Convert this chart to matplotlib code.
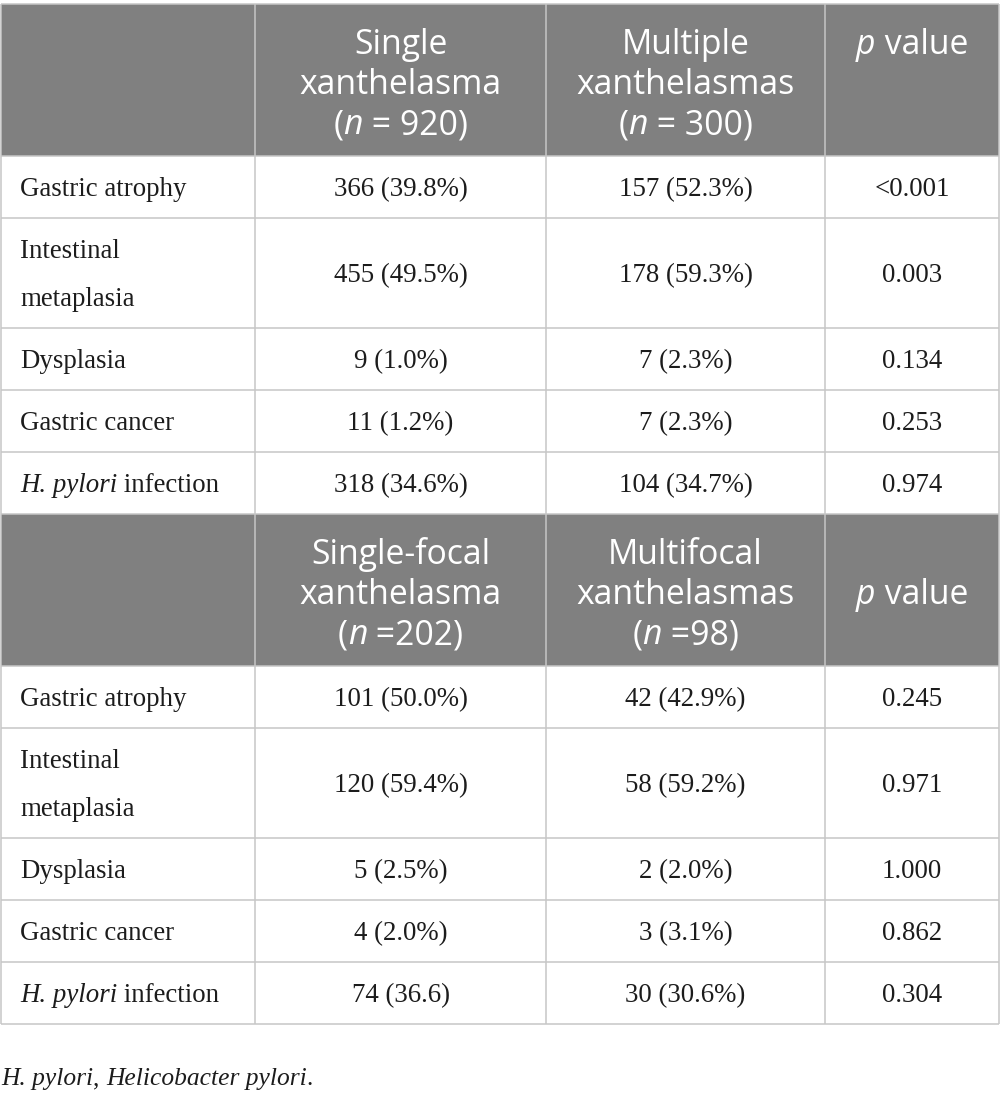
import matplotlib
matplotlib.use("Agg")
import matplotlib.pyplot as plt
from matplotlib.patches import Rectangle

# ---------------- table content ----------------
# "*...*" marks italic runs, "\n" splits a cell into lines
row_labels = ["Gastric atrophy", "Intestinal\nmetaplasia", "Dysplasia",
              "Gastric cancer", "*H. pylori* infection"]

header_top = ["", "Single\nxanthelasma\n(*n* = 920)",
              "Multiple\nxanthelasmas\n(*n* = 300)", "*p* value\n\n"]
single = ["366 (39.8%)", "455 (49.5%)", "9 (1.0%)", "11 (1.2%)", "318 (34.6%)"]
multiple = ["157 (52.3%)", "178 (59.3%)", "7 (2.3%)", "7 (2.3%)", "104 (34.7%)"]
p_top = ["<0.001", "0.003", "0.134", "0.253", "0.974"]

header_bottom = ["", "Single-focal\nxanthelasma\n(*n* =202)",
                 "Multifocal\nxanthelasmas\n(*n* =98)", "*p* value"]
single_focal = ["101 (50.0%)", "120 (59.4%)", "5 (2.5%)", "4 (2.0%)", "74 (36.6)"]
multifocal = ["42 (42.9%)", "58 (59.2%)", "2 (2.0%)", "3 (3.1%)", "30 (30.6%)"]
p_bottom = ["0.245", "0.971", "1.000", "0.862", "0.304"]

footnote = "*H. pylori*, *Helicobacter pylori*."

# ---------------- layout ----------------
W, H = 1000, 1099
col_edges = [1, 255, 546, 825, 999]
top_y = 4
header_h = 152
line_h = 62          # one-line body row
line2_h = 110        # two-line body row
header_gap = 40
body_gap = 48

HEADER_BG = "#808080"
GRID = "#c6c6c6"
TEXT = "#1c1c1c"
SANS = "Open Sans"
SERIF = "Liberation Serif"
HEADER_SIZE = 24.3
BODY_SIZE = 19.4
NOTE_SIZE = 18.4

fig = plt.figure(figsize=(W / 100, H / 100), dpi=100)
ax = fig.add_axes([0, 0, 1, 1])
ax.set_xlim(0, W)
ax.set_ylim(H, 0)
ax.axis("off")
renderer = fig.canvas.get_renderer()


def text_width(s, **kw):
    # measure with bars on both sides so leading/trailing spaces count
    t1 = ax.text(0, 0, "|" + s + "|", **kw)
    t2 = ax.text(0, 0, "||", **kw)
    w = t1.get_window_extent(renderer).width - t2.get_window_extent(renderer).width
    t1.remove()
    t2.remove()
    return w


def draw_line(x, y, s, ha, family, size, color):
    """Draw one line of text that may hold *italic* runs."""
    parts = s.split("*")
    runs = [(p, i % 2 == 1) for i, p in enumerate(parts) if p]
    widths = []
    for p, it in runs:
        widths.append(text_width(p, family=family, fontsize=size,
                                 style="italic" if it else "normal"))
    total = sum(widths)
    x0 = x - total / 2 if ha == "center" else x
    for (p, it), w in zip(runs, widths):
        ax.text(x0, y, p, family=family, fontsize=size, color=color,
                style="italic" if it else "normal", ha="left", va="center")
        x0 += w


def draw_cell(x, yc, s, ha, family, size, color, gap):
    lines = s.split("\n")
    n = len(lines)
    for i, ln in enumerate(lines):
        if ln:
            draw_line(x, yc + (i - (n - 1) / 2) * gap, ln, ha, family, size, color)


def draw_block(y, header, cols):
    # header
    ax.add_patch(Rectangle((col_edges[0], y), col_edges[-1] - col_edges[0],
                           header_h, color=HEADER_BG, lw=0))
    for j, h in enumerate(header):
        xc = (col_edges[j] + col_edges[j + 1]) / 2
        draw_cell(xc, y + header_h / 2 + 5, h, "center", SANS, HEADER_SIZE,
                  "white", header_gap)
    ys = [y, y + header_h]
    y += header_h
    for i, lab in enumerate(row_labels):
        rh = line2_h if "\n" in lab else line_h
        yc = y + rh / 2 + 3
        draw_cell(col_edges[0] + 19, yc, lab, "left", SERIF, BODY_SIZE, TEXT, body_gap)
        for j, col in enumerate(cols):
            xc = (col_edges[j + 1] + col_edges[j + 2]) / 2
            draw_cell(xc, yc, col[i], "center", SERIF, BODY_SIZE, TEXT, body_gap)
        y += rh
        ys.append(y)
    return y, ys


y_end1, ys1 = draw_block(top_y, header_top, [single, multiple, p_top])
y_end2, ys2 = draw_block(y_end1, header_bottom, [single_focal, multifocal, p_bottom])

lw = 1.1
for yy in sorted(set(ys1 + ys2)):
    ax.plot([col_edges[0], col_edges[-1]], [yy, yy], color=GRID, lw=lw,
            solid_capstyle="butt")
for xx in col_edges:
    ax.plot([xx, xx], [top_y, y_end2], color=GRID, lw=lw, solid_capstyle="butt")

draw_line(1, 1079, footnote, "left", SERIF, NOTE_SIZE, TEXT)

fig.savefig("out.png", dpi=100)
